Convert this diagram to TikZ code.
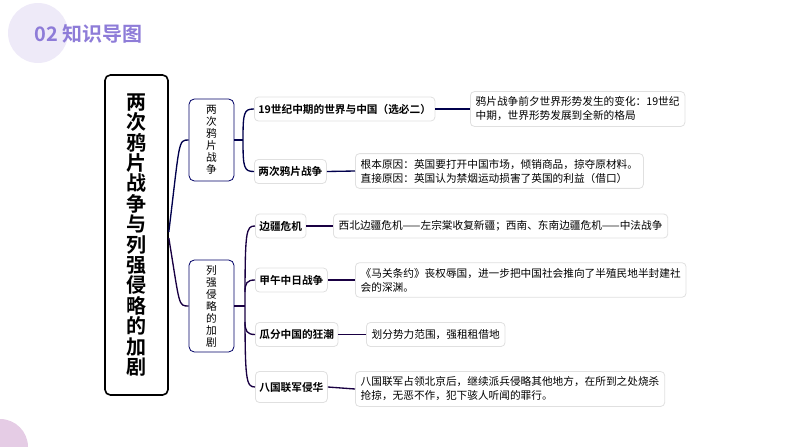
\documentclass[tikz,border=0pt]{standalone}
\usepackage{fontspec}
\setmainfont{Noto Sans CJK SC}
\newfontfamily\cjkb{Noto Sans CJK SC Bold}
\definecolor{ttl}{HTML}{8E7CD8}
\definecolor{circ}{HTML}{EEEAF8}
\begin{document}
\begin{tikzpicture}[x=0.75pt,y=-0.75pt,
  main/.style={draw=black,line width=1.2pt,rounded corners=4pt,fill=white},
  mid/.style={draw=blue!40!black,line width=0.6pt,rounded corners=4pt,fill=white,font=\fontsize{8}{9}\selectfont,align=center,inner sep=0pt},
  lv/.style={draw=black!12,line width=0.6pt,rounded corners=3pt,fill=white,font=\cjkb\fontsize{8}{10}\selectfont,align=left,anchor=west,inner sep=3pt,minimum height=24*0.75pt},
  lf/.style={draw=black!12,line width=0.6pt,rounded corners=3pt,fill=white,font=\fontsize{8}{10.5}\selectfont,align=left,anchor=west,inner sep=4pt},
  c1/.style={draw=blue!30!black,line width=1pt},
  c2/.style={draw=blue!20!black!80!violet,line width=1pt}]
\useasboundingbox (0,0) rectangle (794,447);
\fill[circ] (38,33) circle (30);
\fill[violet!20] (0,447) circle (28);
\node[anchor=west,text=ttl,font=\cjkb\fontsize{15}{15}\selectfont] (title) at (30,34) {02 知识导图};
% main
\node[main,minimum width=63*0.75pt,minimum height=320*0.75pt,font=\cjkb\fontsize{15}{15.3}\selectfont,align=center] (m) at (136.5,235) {两\\次\\鸦\\片\\战\\争\\与\\列\\强\\侵\\略\\的\\加\\剧};
\node[mid,minimum width=45*0.75pt,minimum height=82*0.75pt] (a) at (211.5,140) {两\\次\\鸦\\片\\战\\争};
\node[mid,minimum width=45*0.75pt,minimum height=92*0.75pt] (b) at (211.5,306) {列\\强\\侵\\略\\的\\加\\剧};
\draw[c1] (m.east) ++(0,-3) coordinate (m1) ;
\draw[c1] (m1) .. controls (180,140) and (178,140) .. (a.west);
\draw[c2] (m.east) ++(0,3) coordinate (m2);
\draw[c2] (m2) .. controls (180,306) and (178,306) .. (b.west);
% level 2 top
\node[lv] (a1) at (254,109) {19世纪中期的世界与中国（选必二）};
\node[lv] (a2) at (254,171.5) {两次鸦片战争};
\node[lf] (a1l) at (470,109) {鸦片战争前夕世界形势发生的变化：19世纪\\中期，世界形势发展到全新的格局};
\node[lf] (a2l) at (355,171) {根本原因：英国要打开中国市场，倾销商品，掠夺原材料。\\直接原因：英国认为禁烟运动损害了英国的利益（借口）};
\coordinate (ja) at (243,140);
\draw[c1] (a.east) -- (ja);
\draw[c1] (a1.west) .. controls (244,109) and (243,112) .. (ja) .. controls (243,168) and (244,171.5) .. (a2.west);
\draw[c1] (a1.east) -- (a1l.west);
\draw[c1] (a2.east) -- (a2l.west);
% level 2 bottom
\node[lv] (b1) at (255,226) {边疆危机};
\node[lv] (b2) at (255,280) {甲午中日战争};
\node[lv] (b3) at (255,334.5) {瓜分中国的狂潮};
\node[lv,minimum height=31*0.75pt] (b4) at (255,387) {八国联军侵华};
\node[lf,minimum height=24*0.75pt] (b1l) at (333,226) {西北边疆危机——左宗棠收复新疆；西南、东南边疆危机——中法战争};
\node[lf] (b2l) at (355,280) {《马关条约》丧权辱国，进一步把中国社会推向了半殖民地半封建社\\会的深渊。};
\node[lf,minimum height=24*0.75pt] (b3l) at (366,334.5) {划分势力范围，强租租借地};
\node[lf] (b4l) at (355,389) {八国联军占领北京后，继续派兵侵略其他地方，在所到之处烧杀\\抢掠，无恶不作，犯下骇人听闻的罪行。};
\coordinate (jb) at (245,306);
\draw[c2] (b.east) -- (jb);
\draw[c2] (b1.west) .. controls (246,226) and (245,230) .. (jb) .. controls (245,380) and (246,387) .. (b4.west);
\draw[c2] (b2.west) .. controls (247,280) and (245,283) .. (245,292);
\draw[c2] (b3.west) .. controls (247,334.5) and (245,331) .. (245,322);
\draw[c2] (b1.east) -- (b1l.west);
\draw[c2] (b2.east) -- (b2l.west);
\draw[c2] (b3.east) -- (b3l.west);
\draw[c2] (b4.east) -- (b4l.west);
\end{tikzpicture}
\end{document}
